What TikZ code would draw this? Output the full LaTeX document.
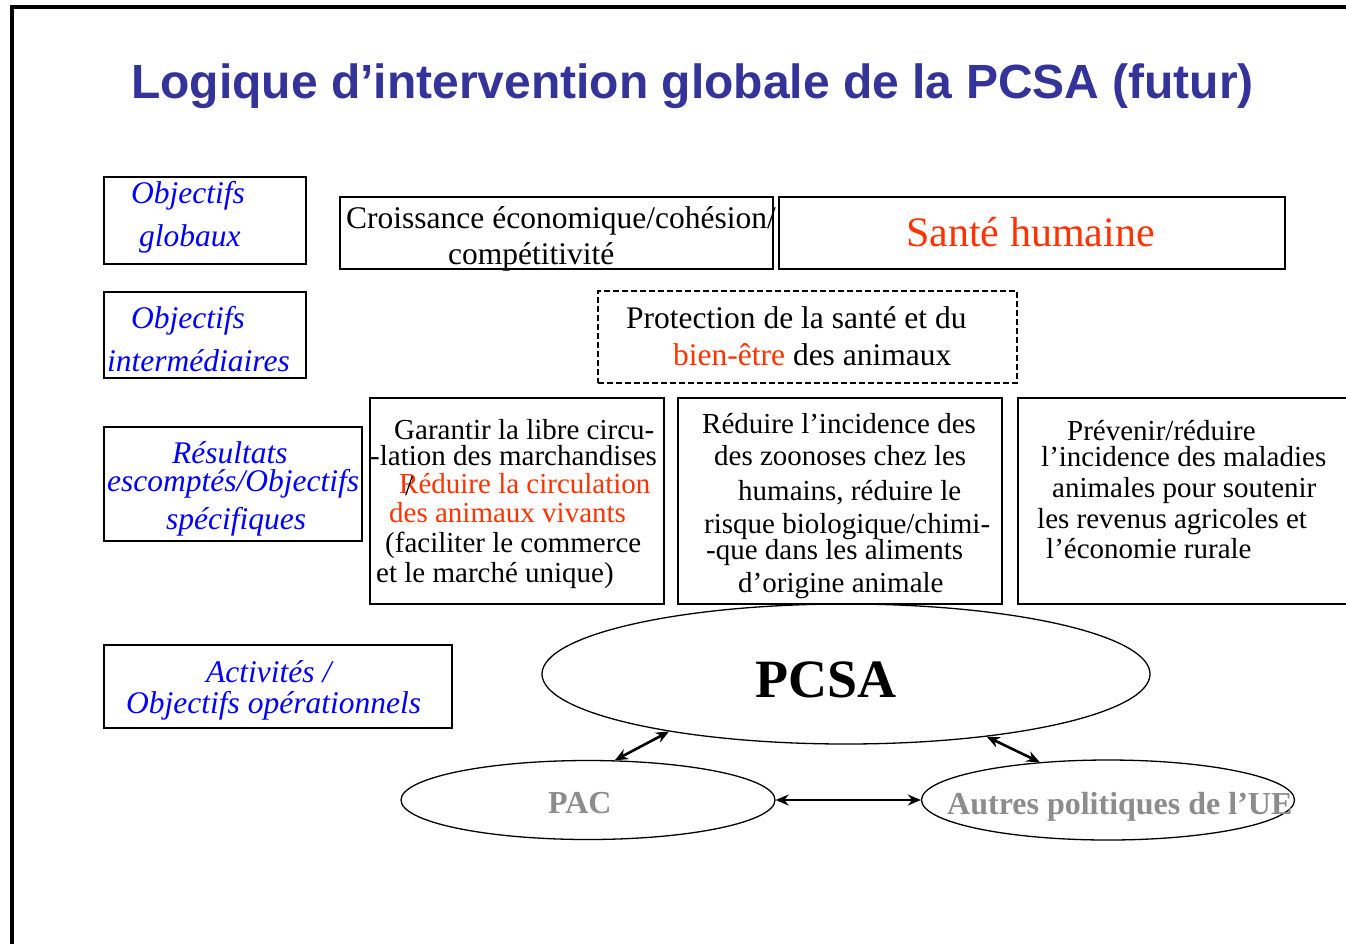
\documentclass[tikz,border=0pt]{standalone}
\usepackage{fontspec}
\setmainfont{Liberation Serif}
\newfontfamily\titlefont{Liberation Sans}
\usetikzlibrary{shapes.geometric,arrows.meta}
\definecolor{titleblue}{RGB}{51,51,153}
\definecolor{lblue}{RGB}{0,0,255}
\definecolor{hred}{RGB}{255,51,0}
\definecolor{pgray}{RGB}{140,140,140}
\newcommand{\fsA}{\fontsize{31.5}{31.5}\selectfont}
\newcommand{\fsB}{\fontsize{29}{29}\selectfont}
\begin{document}
\begin{tikzpicture}[x=1pt,y={(0pt,-1pt)},
  box/.style={draw=black, line width=1.2pt, rectangle, inner sep=0pt},
  dbox/.style={draw=black, line width=1.8pt, dash pattern=on 6pt off 3pt, rectangle, inner sep=0pt},
  ell/.style={draw=black, line width=1.3pt, ellipse, inner sep=0pt},
  txt/.style={anchor=base west, inner sep=0pt},
  lab/.style={txt, font=\fsA\itshape, text=lblue},
  big/.style={txt, font=\fsA},
  sml/.style={txt, font=\fsB},
  redsml/.style={sml, text=hred},
  gry/.style={txt, font=\fontsize{32}{32}\selectfont\bfseries, text=pgray},
  arr/.style={line width=2.6pt, {Stealth[length=13pt,width=11pt]}-{Stealth[length=13pt,width=11pt]}}
]
\clip (0,0) rectangle (1346,943);
% frame
\draw[line width=4pt] (12,950) -- (12,7) -- (1350,7);
% title
\node[txt, font=\titlefont\bfseries\fontsize{48}{48}\selectfont, text=titleblue] (title) at (131,98) {Logique d’intervention globale de la PCSA (futur)};

% boxes
\node[box, minimum width=202pt, minimum height=87pt] (og) at (205,220.5) {};
\node[box, minimum width=433pt, minimum height=72pt] (cr) at (556.5,233) {};
\node[box, minimum width=506pt, minimum height=72pt] (sh) at (1032,233) {};
\node[box, minimum width=202pt, minimum height=86pt] (oi) at (205,335) {};
\node[dbox, minimum width=419pt, minimum height=92pt] (pr) at (807.5,337) {};
\node[box, minimum width=258pt, minimum height=114pt] (re) at (233,484) {};
\node[box, minimum width=294pt, minimum height=206pt] (ga) at (517,501) {};
\node[box, minimum width=324pt, minimum height=206pt] (rd) at (840,501) {};
\node[box, minimum width=342pt, minimum height=206pt] (pv) at (1189,501) {};
\node[box, minimum width=348pt, minimum height=83pt] (ac) at (278,686.5) {};

% left labels
\node[lab] (og1) at (131,203) {Objectifs};
\node[lab] (og2) at (139,246) {globaux};
\node[lab] (oi1) at (131,328) {Objectifs};
\node[lab] (oi2) at (107,371) {intermédiaires};
\node[lab] (re1) at (172,463) {Résultats};
\node[lab] (re2) at (107,491) {escomptés/Objectifs};
\node[lab] (re3) at (166,529) {spécifiques};
\node[lab] (ac1) at (206,682) {Activités /};
\node[lab] (ac2) at (126,713) {Objectifs opérationnels};

% top row
\node[big] (cr1) at (346,228) {Croissance économique/cohésion/};
\node[big] (cr2) at (448,264) {compétitivité};
\node[txt, font=\fontsize{42}{42}\selectfont, text=hred] (sh1) at (906,246) {Santé humaine};

% intermediate
\node[big] (pr1) at (626,328) {Protection de la santé et du};
\node[big] (pr2) at (673,365) {\textcolor{hred}{bien-être} des animaux};

% results
\node[sml] (ga1) at (394,439) {Garantir la libre circu-};
\node[sml] (ga2) at (370,465) {-lation des marchandises};
\node[redsml] (ga3) at (399,493) {Réduire la circulation};
\node[sml] (ga3s) at (405,495) {/};
\node[redsml] (ga4) at (389,522) {des animaux vivants};
\node[sml] (ga5) at (385,552) {(faciliter le commerce};
\node[sml] (ga6) at (376,582) {et le marché unique)};

\node[sml] (rd1) at (702,433) {Réduire l’incidence des};
\node[sml] (rd2) at (714,465) {des zoonoses chez les};
\node[sml] (rd3) at (738,500) {humains, réduire le};
\node[sml] (rd4) at (704,533) {risque biologique/chimi-};
\node[sml] (rd5) at (706,559) {-que dans les aliments};
\node[sml] (rd6) at (738,592) {d’origine animale};

\node[sml] (pv1) at (1067,440) {Prévenir/réduire};
\node[sml] (pv2) at (1041,466) {l’incidence des maladies};
\node[sml] (pv3) at (1052,497) {animales pour soutenir};
\node[sml] (pv4) at (1037,528) {les revenus agricoles et};
\node[sml] (pv5) at (1046,558) {l’économie rurale};

% ellipses
\node[ell, minimum width=608pt, minimum height=140pt] (pcsa) at (846,674) {};
\node[ell, minimum width=374pt, minimum height=79pt] (pac) at (588,800) {};
\node[ell, minimum width=373pt, minimum height=80pt] (autres) at (1108,800) {};
\node[txt, font=\fontsize{54}{54}\selectfont\bfseries] (pcsat) at (755,697) {PCSA};
\node[gry] (pact) at (548,813) {PAC};
\node[gry] (autrest) at (947,814) {Autres politiques de l’UE};

% arrows
\draw[arr] (pac.56) -- (pcsa.198);
\draw[arr] (pcsa.-24) -- (autres.151);
\draw[arr] (pac.east) -- (autres.west);
\end{tikzpicture}
\end{document}
